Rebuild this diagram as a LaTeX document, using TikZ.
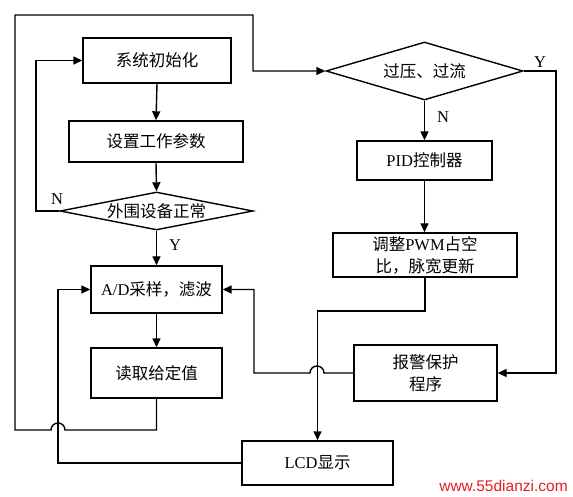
\documentclass[tikz,border=0pt]{standalone}
\usepackage{fontspec}
\setmainfont{Liberation Serif}
\newfontfamily\cjk{Noto Sans CJK SC}
\newfontfamily\webfont{Liberation Sans}
\usetikzlibrary{arrows.meta,shapes.geometric}
\definecolor{markred}{RGB}{225,30,35}

\tikzset{
  flow/.style={line width=1.4pt},
  arr/.style={flow,-{Triangle[length=9pt,width=8pt]}},
  procbox/.style={draw,line width=1.4pt,inner sep=0pt,align=center,
    font=\cjk\fontsize{16.5}{22}\selectfont},
  decide/.style={draw,diamond,line width=1.4pt,inner sep=0pt,
    font=\cjk\fontsize{16.5}{22}\selectfont},
  yn/.style={font=\fontsize{16.5}{18}\selectfont}
}

\begin{document}
\begin{tikzpicture}[x=1pt,y=-1pt]
\useasboundingbox (0,0) rectangle (573,497);

% left column
\node[procbox,minimum width=148pt,minimum height=45pt] (init) at (157,60.5) {系统初始化};
\node[procbox,minimum width=174pt,minimum height=41pt] (param) at (156,141.5) {设置工作参数};
\node[decide,minimum width=193pt,minimum height=38pt] (check) at (156.5,211) {\makebox[0pt]{外围设备正常}};
\node[procbox,minimum width=131pt,minimum height=47pt] (ad) at (156.5,289.5) {\textrm{A/D}采样，滤波};
\node[procbox,minimum width=131pt,minimum height=50pt] (read) at (156.5,373) {读取给定值};

% right column
\node[decide,minimum width=197pt,minimum height=58pt] (ov) at (424.5,71) {\makebox[0pt]{过压、过流}};
\node[procbox,minimum width=135pt,minimum height=39pt] (pid) at (424.5,160.5) {\textrm{PID}控制器};
\node[procbox,minimum width=184pt,minimum height=44pt] (pwm) at (425,255) {调整\textrm{PWM}占空\\比，脉宽更新};
\node[procbox,minimum width=143pt,minimum height=56pt] (alarm) at (425.5,373) {报警保护\\程序};
\node[procbox,minimum width=151pt,minimum height=44pt] (lcd) at (317.5,463) {\textrm{LCD}显示};

% labels
\node[yn] (n1) at (57,199) {N};
\node[yn] (y1) at (175,245) {Y};
\node[yn] (n2) at (443,117) {N};
\node[yn] (y2) at (540,62) {Y};

% arrows
\draw[arr] (init.south) -- (param.north);
\draw[arr] (param.south) -- (check.north);
\draw[arr] (check.west) -- (36,211) |- (init.west);
\draw[arr] (check.south) -- (ad.north);
\draw[arr] (ad.south) -- (read.south |- read.north);
\draw[arr] (read.south) -- (156.5,430) -- (65,430)
  arc[start angle=0,end angle=-180,radius=7] -- (15,430) |- (253,15) |- (ov.west);
\draw[arr] (ov.south) -- (pid.north);
\draw[arr] (pid.south) -- (pid.south |- pwm.north);
\draw[arr] (pwm.south) |- (317.5,311) -- (lcd.north);
\draw[arr] (ov.east) -- (556,71) |- (alarm.east);
\draw[arr] (alarm.west) -- (324,373)
  arc[start angle=0,end angle=-180,radius=7] -- (254,373) |- (ad.east);
\draw[arr] (lcd.west) -- (58,463) |- (ad.west);

\node[text=markred,font=\webfont\fontsize{15.5}{18}\selectfont] (web) at (503.5,486) {www.55dianzi.com};
\end{tikzpicture}
\end{document}
